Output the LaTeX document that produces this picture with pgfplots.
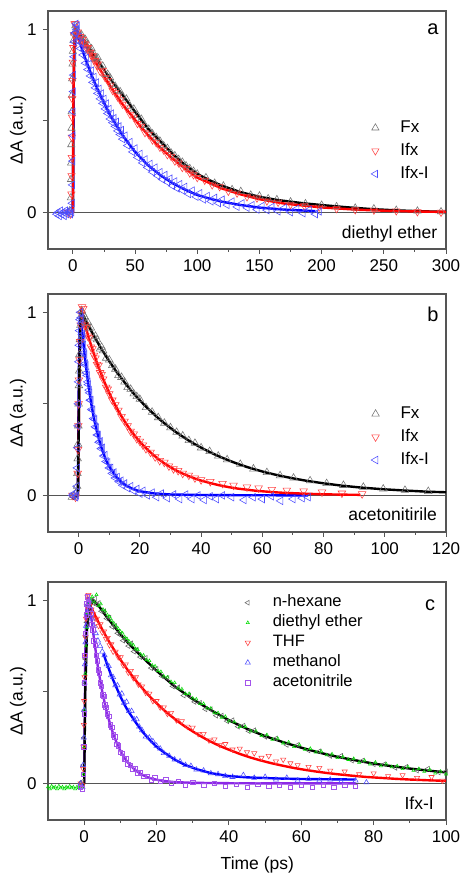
\documentclass[border=0pt]{standalone}
\usepackage{fontspec}
\setmainfont{Liberation Sans}
\usepackage{pgfplots}
\pgfplotsset{compat=1.18}
\definecolor{myred}{RGB}{255,0,0}
\definecolor{myblue}{RGB}{0,0,255}
\definecolor{mypurple}{RGB}{140,40,230}
\definecolor{mygreen}{RGB}{0,220,0}
\definecolor{axgray}{RGB}{85,85,85}
\pgfplotsset{
  panel/.style={
    scale only axis, width=398pt, height=238pt,
    axis line style={draw=axgray, line width=1.1pt},
    every tick/.style={draw=axgray, line width=0.9pt},
    tick align=outside, xtick pos=bottom, ytick pos=left,
    major tick length=5pt, minor tick length=3pt,
    minor x tick num=1,
    ymin=-0.2, ymax=1.1,
    ytick={0,0.5,1}, yticklabels={0,,1},
    /pgf/number format/assume math mode=true,
    ticklabel style={font=\fontsize{17}{20}\selectfont},
    xticklabel style={yshift=-2pt},
    yticklabel style={xshift=-3pt},
    label style={font=\fontsize{17.5}{21}\selectfont},
    ylabel={ΔA (a.u.)},
    ylabel style={at={(axis description cs:-0.075,0.5)}, anchor=center},
    legend cell align=left,
    legend style={draw=none, fill=none, inner sep=0pt, outer sep=0pt,
      font=\fontsize{17}{20}\selectfont,
      nodes={inner ysep=3pt, text height=13pt, text depth=4pt}},
  },
  mk/.style n args={4}{only marks, mark=#1, mark size=#2, color=#3,
    mark options={solid, line width=0.55pt, rotate=#4, fill=none},
    legend image code/.code={\draw[##1] plot coordinates {(0pt,0pt)}; \path[draw=none] (0pt,0pt) -- (23pt,0pt);}},
  ln/.style={no markers, line width=2.4pt, color=#1, forget plot},
}
\begin{document}
\begin{tikzpicture}
\path[use as bounding box] (0,0) rectangle (462pt,874pt);
% ---------------- panel a ----------------
\begin{axis}[panel, at={(48pt,625pt)}, anchor=south west,
  xmin=-20, xmax=300, xtick={0,50,...,300},
  legend style={at={(axis description cs:0.812,0.557)}, anchor=north west}]
\addplot[color=axgray, line width=1pt, forget plot] coordinates {(-20,0) (300,0)};
\addplot[mk={triangle}{4.2pt}{black!55}{0}] coordinates {
(-3,0.0)(-2.5,0.01)(-1.6,0.08)(-1.5,0.18)(-1.4,0.27)(-1.3,0.37)(-1.1,0.46)(-1.0,0.55)(-0.8,0.64)(-0.6,0.73)(-0.3,0.81)(0,0.88)(0.5,0.94)(1,0.98)
(2,1.02)(3,0.985)(4,0.99)(5,0.96)(6,0.966)(7,0.97)(8,0.935)(9,0.944)(10,0.945)(11,0.91)(12,0.92)(13,0.885)(14,0.89)(15,0.895)(16,0.86)(17,0.865)(18,0.835)(19,0.84)(20,0.845)(22,0.80)(24,0.80)(26,0.755)(28,0.755)(30,0.735)(32,0.70)(34,0.69)(36,0.665)(38,0.66)(40,0.635)(43,0.62)(46,0.58)(49,0.565)(52,0.53)(55,0.51)(58,0.475)(61,0.455)(64,0.43)(67,0.41)(70,0.39)(73,0.365)(76,0.35)(79,0.325)(82,0.31)(85,0.29)(88,0.275)(91,0.255)(94,0.24)(97,0.225)(100,0.21)(107,0.19)(114,0.16)(121,0.145)(128,0.125)(135,0.115)(143,0.095)(150,0.09)(157,0.075)(164,0.07)(175,0.058)(187,0.048)(200,0.04)(212,0.032)(227,0.024)(242,0.02)(260,0.012)(277,0.008)(296,0.004)};
\addlegendentry{Fx}
\addplot[mk={triangle}{4.2pt}{myred!75}{180}] coordinates {
(-4,0.0)(-2,-0.01)(-1.2,0.1)(-1.1,0.2)(-1.0,0.3)(-0.9,0.41)(-0.7,0.52)(-0.5,0.62)(-0.3,0.72)(-0.1,0.82)(0.3,0.9)(0.8,0.97)(1.3,1.03)
(2,1.03)(3,0.98)(4,0.985)(5,0.95)(6,0.96)(7,0.93)(8,0.945)(9,0.92)(10,0.92)(11,0.895)(12,0.9)(13,0.875)(14,0.875)(15,0.855)(16,0.855)(17,0.83)(18,0.83)(19,0.805)(20,0.81)(22,0.77)(24,0.775)(26,0.735)(28,0.72)(30,0.695)(32,0.665)(34,0.655)(36,0.63)(38,0.615)(40,0.59)(43,0.57)(46,0.535)(49,0.52)(52,0.485)(55,0.47)(58,0.435)(61,0.425)(64,0.395)(67,0.38)(70,0.355)(73,0.34)(76,0.315)(79,0.305)(82,0.28)(85,0.27)(88,0.245)(91,0.24)(94,0.215)(97,0.205)(100,0.19)(106,0.175)(112,0.15)(118,0.14)(125,0.115)(132,0.105)(140,0.085)(148,0.078)(156,0.062)(165,0.055)(175,0.042)(186,0.036)(198,0.028)(212,0.02)(227,0.014)(242,0.012)(260,0.008)(277,0.003)(296,0.0)};
\addlegendentry{Ifx}
\addplot[mk={triangle}{4.2pt}{myblue!70}{90}] coordinates {
(-13,-0.01)(-12,0.0)(-11,-0.02)(-10,0.01)(-9,-0.01)(-8,0.0)(-7,-0.02)(-6,0.01)(-5,-0.01)(-4,0.0)(-3,0.01)(-2,-0.01)(-1,0.0)
(-0.6,0.05)(-0.4,0.15)(-0.2,0.28)(0,0.42)(0.1,0.55)(0.3,0.66)(0.5,0.75)(0.8,0.85)(1.1,0.93)(1.5,0.98)(2.5,1.03)(3.5,1.02)
(2,0.98)(3,1.0)(4,0.935)(5,0.96)(6,0.895)(7,0.925)(8,0.86)(9,0.885)(10,0.815)(11,0.845)(12,0.78)(13,0.81)(14,0.745)(15,0.775)(16,0.71)(17,0.74)(18,0.68)(19,0.71)(20,0.65)(21,0.675)(22,0.62)(23,0.65)(24,0.595)(25,0.62)(26,0.565)(27,0.595)(28,0.54)(29,0.565)(30,0.51)(31,0.54)(32,0.49)(33,0.515)(34,0.47)(35,0.495)(36,0.445)(37,0.47)(38,0.425)(39,0.45)(40,0.40)(42,0.42)(44,0.365)(46,0.385)(48,0.33)(50,0.35)(52,0.30)(54,0.32)(56,0.27)(58,0.29)(60,0.245)(62,0.265)(64,0.22)(66,0.245)(68,0.20)(70,0.22)(72,0.18)(74,0.205)(76,0.165)(78,0.185)(80,0.145)(82,0.17)(84,0.13)(86,0.155)(88,0.12)(90,0.14)(93,0.10)(96,0.12)(99,0.085)(102,0.105)(105,0.07)(108,0.09)(111,0.06)(114,0.08)(117,0.05)(120,0.07)(124,0.04)(128,0.06)(132,0.03)(136,0.05)(140,0.025)(144,0.04)(148,0.015)(152,0.035)(156,0.012)(160,0.03)(165,0.005)(170,0.025)(175,0.0)(180,0.02)(185,-0.005)(190,0.015)(195,-0.01)(198,0.005)};
\addlegendentry{Ifx-I}
\addplot[ln=black] coordinates {(0,0)(0.5,0.6)(1.2,0.92)(2,1.0)(5,0.975)(10,0.93)(15,0.88)(20,0.83)(25,0.78)(30,0.73)(40,0.64)(50,0.55)(60,0.46)(70,0.39)(80,0.32)(90,0.26)(100,0.21)(110,0.175)(120,0.145)(135,0.11)(150,0.085)(165,0.067)(185,0.05)(200,0.04)(220,0.028)(240,0.018)(260,0.011)(280,0.006)(300,0.003)};
\addplot[ln=myblue] coordinates {(0,0)(0.5,0.6)(1.2,0.92)(2,1.0)(5,0.94)(10,0.84)(15,0.75)(20,0.67)(30,0.53)(40,0.42)(50,0.33)(60,0.26)(70,0.205)(80,0.16)(90,0.125)(100,0.095)(110,0.075)(120,0.058)(135,0.04)(150,0.026)(170,0.015)(195,0.007)};
\addplot[ln=myred] coordinates {(0,0)(0.4,0.6)(1.1,0.93)(2,1.0)(5,0.965)(10,0.915)(15,0.86)(20,0.80)(30,0.69)(40,0.59)(50,0.505)(60,0.425)(70,0.355)(80,0.295)(90,0.24)(100,0.19)(110,0.16)(120,0.13)(135,0.098)(150,0.072)(170,0.048)(200,0.027)(230,0.014)(260,0.007)(300,0.002)};
\node[font=\fontsize{20}{24}\selectfont] at (rel axis cs:0.967,0.924) {a};
\node[anchor=base east, font=\fontsize{17.5}{21}\selectfont] at (rel axis cs:0.987,0.042) {diethyl ether};
\end{axis}
% ---------------- panel b ----------------
\begin{axis}[panel, at={(48pt,342pt)}, anchor=south west,
  xmin=-10, xmax=120, xtick={0,20,...,120},
  legend style={at={(axis description cs:0.812,0.544)}, anchor=north west}]
\addplot[color=axgray, line width=1pt, forget plot] coordinates {(-10,0) (120,0)};
\addplot[mk={triangle}{4.4pt}{black!55}{0}] coordinates {
(-2.2,-0.01)(-1.5,0.0)(-1.0,0.01)(-0.5,0.05)(-0.4,0.12)(-0.3,0.2)(-0.2,0.28)(-0.1,0.38)(0,0.5)(0.1,0.6)(0.2,0.68)(0.3,0.77)(0.4,0.85)(0.6,0.93)(0.8,0.98)
(1,1.01)(1.5,0.99)(2,0.975)(2.5,0.94)(3,0.945)(3.5,0.91)(4,0.915)(5,0.86)(5.5,0.87)(6,0.85)(7,0.80)(7.5,0.81)(8,0.79)(9,0.75)(10,0.74)(11,0.71)(12,0.69)(13,0.655)(14,0.645)(15,0.62)(16,0.59)(17,0.58)(18,0.555)(19,0.54)(20,0.525)(22,0.48)(24,0.455)(26,0.425)(28,0.395)(30,0.37)(32,0.345)(34,0.325)(36,0.30)(38,0.285)(40,0.26)(42.8,0.24)(45.6,0.215)(48.5,0.195)(52.8,0.17)(57.1,0.145)(61.5,0.125)(65.8,0.108)(70.2,0.095)(75.6,0.08)(81,0.065)(86.5,0.055)(93,0.045)(99.5,0.035)(106.6,0.028)(114.2,0.022)};
\addlegendentry{Fx}
\addplot[mk={triangle}{4.4pt}{myred!75}{180}] coordinates {
(-2.0,0.0)(-1.0,-0.01)(-0.3,0.12)(-0.2,0.25)(-0.1,0.38)(0,0.5)(0.1,0.63)(0.3,0.74)(0.5,0.84)(0.7,0.93)(0.9,0.99)(1.1,1.03)
(1.5,1.02)(2,0.93)(2.5,0.915)(3,0.87)(3.5,0.86)(4,0.81)(4.5,0.80)(5,0.765)(5.5,0.75)(6,0.715)(6.5,0.71)(7,0.67)(7.5,0.66)(8,0.635)(9,0.59)(9.5,0.58)(10,0.555)(11,0.52)(12,0.495)(13,0.465)(14,0.43)(15,0.405)(16,0.38)(17,0.35)(18,0.335)(19,0.31)(20,0.295)(21,0.275)(22,0.255)(23.5,0.235)(25,0.21)(26.5,0.19)(28,0.18)(29.5,0.16)(31,0.145)(32.5,0.135)(34,0.12)(36,0.11)(38,0.095)(40,0.085)(43,0.075)(47,0.065)(50.6,0.055)(55,0.045)(58.8,0.04)(63.1,0.032)(68,0.028)(73.5,0.024)(79.5,0.018)(86,0.012)(92.6,0.008)};
\addlegendentry{Ifx}
\addplot[mk={triangle}{4.4pt}{myblue!70}{90}] coordinates {
(-2,0.0)(-1.5,0.01)(-1,-0.01)(-0.7,0.0)(-0.5,0.05)(-0.4,0.15)(-0.3,0.26)(-0.2,0.38)(-0.1,0.5)(0,0.62)(0.1,0.73)(0.2,0.82)(0.3,0.9)(0.45,0.96)(0.6,1.0)
(0.8,0.97)(1,0.94)(1.2,0.88)(1.4,0.86)(1.6,0.82)(1.8,0.78)(2,0.77)(2.2,0.72)(2.4,0.71)(2.6,0.67)(2.8,0.655)(3,0.62)(3.2,0.605)(3.4,0.575)(3.6,0.56)(3.8,0.52)(4,0.52)(4.3,0.47)(4.6,0.465)(4.9,0.42)(5.2,0.415)(5.5,0.375)(5.8,0.37)(6.1,0.33)(6.4,0.33)(6.7,0.29)(7,0.295)(7.4,0.255)(7.8,0.26)(8.2,0.215)(8.6,0.22)(9,0.185)(9.5,0.18)(10,0.15)(10.5,0.15)(11,0.12)(11.5,0.125)(12,0.095)(12.6,0.10)(13.2,0.075)(13.8,0.08)(14.4,0.055)(15,0.065)(16,0.04)(17,0.05)(18,0.025)(19,0.035)(20,0.01)(21,0.025)(22.5,0.0)(24,0.015)(25.5,-0.01)(27,0.01)(29,-0.015)(31,0.005)(33,-0.02)(35,0.005)(37,-0.02)(39,0.0)(41,-0.025)(43,-0.005)(45,-0.02)(47,0.0)(50,-0.01)(54,-0.025)(57,-0.01)(60,-0.02)(63,-0.005)(66,-0.03)(70,-0.02)(73,-0.015)(75,-0.01)};
\addlegendentry{Ifx-I}
\addplot[ln=myblue] coordinates {(-0.3,0)(0.1,0.7)(0.4,0.96)(0.6,1.0)(1,0.925)(2,0.76)(3,0.625)(4,0.513)(5,0.42)(6,0.347)(7,0.285)(8,0.234)(9,0.19)(10,0.158)(12,0.107)(14,0.072)(16,0.049)(18,0.033)(20,0.022)(25,0.01)(30,0.005)(40,0.002)(50,0.001)(75,0.0)};
\addplot[ln=myred] coordinates {(-0.2,0)(0.2,0.6)(0.6,0.93)(1,1.0)(2,0.9375)(3,0.879)(4,0.824)(5,0.773)(6,0.724)(7,0.679)(8,0.636)(9,0.597)(10,0.559)(11,0.524)(12,0.492)(13,0.461)(14,0.432)(15,0.405)(16,0.38)(17,0.356)(18,0.334)(19,0.313)(20,0.293)(22,0.258)(24,0.227)(26,0.199)(28,0.175)(30,0.154)(32,0.135)(34,0.119)(36,0.105)(38,0.092)(40,0.081)(43,0.067)(46,0.055)(49,0.045)(52,0.037)(55,0.031)(58,0.025)(61,0.021)(64,0.017)(67,0.014)(70,0.012)(75,0.0085)(80,0.006)(86,0.004)(92,0.003)};
\addplot[ln=black] coordinates {(-2,-0.02)(-0.2,0)(0.3,0.75)(0.6,0.95)(0.9,1.0)(1.5,0.983)(2,0.966)(3,0.933)(4,0.902)(5,0.871)(6,0.842)(7,0.813)(8,0.786)(9,0.759)(10,0.733)(12,0.684)(14,0.639)(16,0.596)(18,0.556)(20,0.519)(22,0.485)(24,0.453)(26,0.422)(28,0.394)(30,0.368)(32,0.343)(34,0.321)(36,0.299)(38,0.279)(40,0.261)(43,0.235)(46,0.212)(49,0.191)(52,0.172)(55,0.155)(58,0.14)(61,0.126)(64,0.114)(67,0.103)(70,0.093)(75,0.078)(80,0.066)(86,0.053)(92,0.043)(99,0.034)(106,0.027)(114,0.02)(120,0.017)};
\node[font=\fontsize{20}{24}\selectfont] at (rel axis cs:0.967,0.915) {b};
\node[anchor=base east, font=\fontsize{17.5}{21}\selectfont] at (rel axis cs:0.986,0.05) {acetonitirile};
\end{axis}
% ---------------- panel c ----------------
\begin{axis}[panel, at={(48pt,54pt)}, anchor=south west,
  xmin=-10, xmax=100, xtick={0,20,...,100},
  xlabel={Time (ps)},
  xlabel style={at={(axis description cs:0.526,-0.21)}, anchor=base},
  legend style={at={(axis description cs:0.495,0.955)}, anchor=north west,
    font=\fontsize{16.5}{19}\selectfont,
    nodes={inner ysep=2pt, text height=12pt, text depth=4pt}}]
\addplot[color=axgray, line width=1pt, forget plot] coordinates {(-10,0) (100,0)};
\addplot[mk={triangle}{2.8pt}{black!60}{90}] coordinates {
(-1,0.0)(-0.5,0.01)(-0.2,0.1)(0,0.25)(0.1,0.4)(0.2,0.55)(0.3,0.68)(0.5,0.8)(0.7,0.88)(1.0,0.93)(1.3,0.97)(1.7,0.99)
(2,1.0)(2.5,0.985)(3,1.01)(3.5,0.975)(4,0.985)(4.75,0.94)(5.5,0.94)(6.25,0.9)(7,0.905)(7.75,0.855)(8.5,0.86)(9.25,0.82)(10,0.81)(10.75,0.78)(11.5,0.785)(12.25,0.75)(13,0.765)(13.75,0.72)(14.5,0.73)(15.5,0.69)(17,0.685)(18.5,0.63)(20,0.625)(21.5,0.585)(23,0.575)(24.5,0.53)(26,0.525)(27.5,0.48)(29,0.48)(30.5,0.445)(32,0.44)(33.5,0.405)(35,0.405)(36.5,0.37)(38,0.37)(39.5,0.34)(41,0.345)(42.5,0.31)(44,0.315)(45.5,0.285)(47,0.29)(50,0.255)(53,0.245)(56,0.21)(59,0.21)(62,0.18)(65,0.175)(68,0.15)(71,0.15)(74,0.125)(77,0.125)(80,0.105)(83,0.105)(86,0.085)(89,0.09)(92,0.07)(95,0.08)(98,0.06)(100,0.065)};
\addlegendentry{n-hexane}
\addplot[mk={triangle}{1.8pt}{mygreen}{0}] coordinates {
(-10,-0.02)(-9.5,-0.03)(-9,-0.015)(-8.5,-0.025)(-8,-0.02)(-7.5,-0.03)(-7,-0.015)(-6.5,-0.025)(-6,-0.02)(-5.5,-0.03)(-5,-0.02)(-4.5,-0.025)(-4,-0.015)(-3.5,-0.025)(-3,-0.02)(-2.5,-0.03)(-2,-0.02)(-1.5,-0.025)(-1,-0.015)(-0.5,-0.02)
(-0.2,0.05)(0,0.2)(0.15,0.4)(0.3,0.6)(0.5,0.75)(0.7,0.85)(1,0.93)(1.4,0.98)(1.8,1.0)
(2.2,1.02)(2.8,0.99)(3.4,1.03)(4,0.97)(4.6,0.98)(5.2,0.95)(5.8,0.94)(6.4,0.92)(7,0.91)(7.6,0.89)(8.2,0.875)(8.8,0.86)(9.4,0.845)(10,0.83)(10.6,0.82)(11.2,0.8)(11.8,0.79)(12.4,0.775)(13,0.76)(13.6,0.755)(14.2,0.735)(14.8,0.73)(15.6,0.705)(16.4,0.7)(17.2,0.675)(18,0.67)(18.8,0.645)(19.6,0.64)(20.4,0.615)(21.2,0.61)(22,0.585)(23,0.58)(24,0.555)(25,0.55)(26,0.52)(27,0.515)(28,0.49)(29,0.49)(30,0.465)(31,0.46)(32,0.435)(33,0.435)(34,0.41)(35,0.41)(36,0.385)(37,0.385)(38,0.36)(39,0.365)(40,0.34)(41.5,0.335)(43,0.31)(44.5,0.31)(46,0.285)(47.5,0.285)(49,0.26)(50.5,0.265)(52,0.24)(53.5,0.245)(55,0.22)(56.5,0.225)(58,0.2)(59.5,0.21)(61,0.185)(62.5,0.19)(64,0.17)(65.5,0.175)(67,0.155)(68.5,0.16)(70,0.14)(71.5,0.145)(73,0.13)(74.5,0.135)(76,0.115)(77.5,0.125)(79,0.105)(80.5,0.115)(82,0.095)(83.5,0.105)(85,0.09)(86.5,0.095)(88,0.08)(89.5,0.09)(91,0.07)(92.5,0.08)(94,0.065)(95.5,0.075)(97,0.055)(98.5,0.065)(100,0.05)};
\addlegendentry{diethyl ether}
\addplot[mk={triangle}{3pt}{myred!75}{180}] coordinates {
(-1,0.0)(-0.5,-0.01)(-0.3,0.08)(-0.2,0.2)(-0.1,0.32)(0,0.45)(0.1,0.58)(0.2,0.7)(0.35,0.8)(0.5,0.9)(0.7,0.97)(0.9,1.02)(1.2,1.03)
(1.5,0.97)(2,0.95)(2.5,0.925)(3,0.9)(3.5,0.9)(4,0.86)(4.5,0.87)(5,0.825)(5.5,0.83)(6,0.79)(6.5,0.795)(7,0.755)(7.5,0.76)(8,0.72)(8.7,0.72)(9.4,0.69)(10.1,0.69)(10.8,0.645)(11.5,0.65)(12.2,0.605)(12.9,0.615)(13.6,0.575)(14.3,0.58)(15,0.54)(16,0.53)(17,0.495)(18,0.49)(19,0.45)(20,0.45)(21,0.415)(22,0.415)(23,0.38)(24,0.385)(25.5,0.345)(27,0.34)(28.5,0.31)(30,0.305)(31.5,0.27)(33,0.27)(34.5,0.235)(36,0.24)(37.5,0.21)(39,0.215)(41,0.185)(43,0.19)(45,0.17)(47,0.165)(49,0.14)(51,0.15)(53,0.12)(55,0.13)(57,0.11)(59,0.1)(62,0.09)(65,0.085)(68,0.07)(72,0.065)(76,0.05)(80,0.055)(84,0.04)(88,0.045)(92,0.03)(96,0.035)(99,0.015)};
\addlegendentry{THF}
\addplot[mk={triangle}{3pt}{myblue!70}{0}] coordinates {
(-1,0.0)(-0.5,-0.02)(-0.3,0.1)(-0.1,0.25)(0,0.4)(0.1,0.55)(0.2,0.65)(0.35,0.77)(0.5,0.86)(0.7,0.93)(1,0.98)(1.3,1.0)
(1.7,0.95)(2.2,0.9)(2.7,0.86)(3.2,0.82)(3.8,0.78)(4.4,0.75)(5,0.72)(5.6,0.7)(6.2,0.65)(6.8,0.64)(7.4,0.59)(8,0.58)(8.6,0.535)(9.2,0.535)(9.8,0.485)(10.4,0.49)(11,0.44)(11.7,0.445)(12.4,0.395)(13.1,0.395)(13.8,0.35)(14.5,0.35)(15.2,0.31)(16,0.29)(17,0.255)(18,0.25)(19,0.23)(20,0.205)(21,0.19)(22,0.165)(23.5,0.15)(25,0.13)(26.5,0.12)(28,0.10)(29.5,0.095)(31,0.075)(33,0.07)(35,0.055)(37,0.05)(39,0.04)(41,0.035)(44,0.045)(47,0.03)(50,0.035)(53,0.02)(56,0.03)(59,0.015)(62,0.025)(65,0.015)(68,0.02)(71,0.01)(75,0.015)(78,0.005)};
\addlegendentry{methanol}
\addplot[mk={square}{2.2pt}{mypurple!80}{0}] coordinates {
(-1,-0.02)(-0.6,-0.03)(-0.3,0.05)(-0.15,0.2)(0,0.38)(0.1,0.55)(0.2,0.7)(0.35,0.82)(0.5,0.92)(0.7,0.98)(0.9,1.02)
(1.2,0.99)(1.5,0.95)(1.8,0.93)(2.1,0.87)(2.4,0.84)(2.7,0.78)(3,0.755)(3.3,0.70)(3.6,0.67)(3.9,0.62)(4.2,0.6)(4.5,0.55)(4.8,0.53)(5.1,0.485)(5.4,0.475)(5.7,0.43)(6,0.415)(6.4,0.38)(6.8,0.365)(7.2,0.32)(7.6,0.305)(8,0.265)(8.5,0.255)(9,0.215)(9.5,0.205)(10,0.17)(10.5,0.165)(11,0.135)(11.5,0.135)(12,0.105)(12.7,0.1)(13.4,0.08)(14.1,0.08)(14.8,0.055)(15.5,0.06)(16.5,0.04)(17.5,0.04)(18.5,0.02)(19.5,0.03)(21,0.01)(22.5,0.02)(24,0.0)(26,0.01)(28,-0.01)(30,0.005)(33,-0.01)(36,0.0)(39,-0.015)(42,-0.005)(45,-0.02)(48,-0.005)(51,-0.015)(54,-0.01)(57,-0.02)(60,-0.01)(63,-0.02)(66,-0.01)(69,-0.02)(72,-0.01)(75,-0.015)};
\addlegendentry{acetonitrile}
\addplot[ln=myred] coordinates {(1.8,0.96)(2,0.957)(3,0.917)(4,0.878)(5,0.84)(6,0.805)(7,0.77)(8,0.738)(9,0.706)(10,0.676)(12,0.62)(14,0.568)(16,0.521)(18,0.477)(20,0.438)(22,0.401)(24,0.368)(26,0.337)(28,0.309)(30,0.284)(32,0.26)(34,0.238)(36,0.218)(38,0.2)(40,0.184)(43,0.161)(46,0.141)(49,0.124)(52,0.109)(55,0.096)(58,0.084)(61,0.074)(64,0.065)(67,0.057)(70,0.05)(74,0.042)(78,0.035)(82,0.03)(86,0.025)(90,0.021)(95,0.017)(100,0.0135)};
\addplot[ln=myblue] coordinates {(5.3,0.71)(6,0.67)(7,0.615)(8,0.565)(9,0.52)(10,0.475)(11,0.435)(12,0.40)(14,0.34)(16,0.285)(18,0.24)(20,0.20)(22,0.17)(25,0.13)(28,0.10)(31,0.078)(35,0.056)(40,0.04)(45,0.033)(50,0.029)(55,0.026)(60,0.024)(65,0.023)(70,0.022)(75,0.021)};
\addplot[ln=mypurple] coordinates {(0,0)(0.3,0.7)(0.6,0.95)(0.9,1.0)(1.5,0.96)(2,0.9)(2.5,0.82)(3,0.75)(3.5,0.675)(4,0.61)(5,0.5)(6,0.41)(7,0.335)(8,0.272)(9,0.22)(10,0.178)(11,0.143)(12,0.115)(14,0.074)(16,0.047)(18,0.03)(20,0.02)(22,0.013)(25,0.007)(30,0.003)(40,0.001)(50,0)(75,0)};
\addplot[ln=black] coordinates {(-0.5,-0.02)(0,0)(0.3,0.5)(0.8,0.85)(1.5,0.96)(2.5,1.0)(4,0.97)(6,0.915)(8,0.865)(10,0.815)(12,0.77)(15,0.71)(20,0.615)(25,0.53)(30,0.46)(35,0.40)(40,0.345)(45,0.298)(50,0.258)(55,0.225)(60,0.195)(65,0.168)(70,0.145)(75,0.126)(80,0.108)(85,0.094)(90,0.081)(95,0.07)(100,0.06)};
\node[font=\fontsize{20}{24}\selectfont] at (rel axis cs:0.96,0.903) {c};
\node[anchor=base east, font=\fontsize{17.5}{21}\selectfont] at (rel axis cs:0.978,0.045) {Ifx-I};
\end{axis}
\end{tikzpicture}
\end{document}
